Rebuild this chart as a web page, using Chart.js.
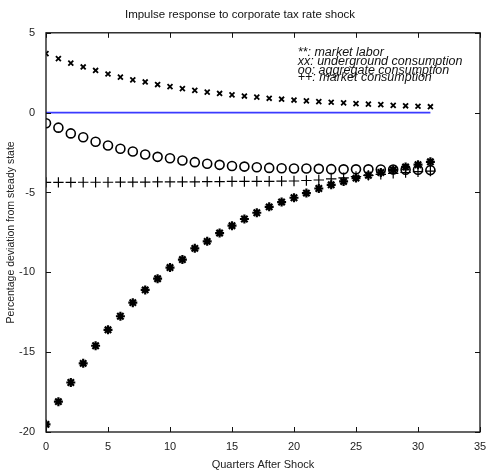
<!DOCTYPE html>
<html>
<head>
<meta charset="utf-8">
<script src="https://cdn.jsdelivr.net/npm/chart.js@4.4.1/dist/chart.umd.min.js"></script>
<style>
  html, body { margin: 0; padding: 0; background: #fff; }
  #wrap { width: 492px; height: 476px; }
</style>
</head>
<body>
<div id="wrap"><canvas id="chart" width="492" height="476"></canvas></div>
<script>
// quarters after the shock
let quarters = [0,1,2,3,4,5,6,7,8,9,10,11,12,13,14,15,16,17,18,19,20,21,22,23,24,25,26,27,28,29,30,31];

// xx: underground consumption
let underground = [3.7,3.38,3.1,2.86,2.64,2.42,2.22,2.05,1.92,1.76,1.63,1.5,1.39,1.29,1.2,1.11,1.04,0.97,0.9,0.84,0.79,0.74,0.69,0.65,0.61,0.57,0.53,0.5,0.46,0.43,0.4,0.37];
// oo: aggregate consumption
let aggregate = [-0.66,-0.94,-1.3,-1.54,-1.82,-2.06,-2.26,-2.43,-2.62,-2.77,-2.86,-3.0,-3.1,-3.2,-3.27,-3.34,-3.38,-3.42,-3.46,-3.48,-3.5,-3.5,-3.52,-3.54,-3.55,-3.55,-3.55,-3.56,-3.56,-3.57,-3.58,-3.6];
// ++: market consumption
let marketCons = [-4.37,-4.37,-4.37,-4.36,-4.36,-4.36,-4.35,-4.35,-4.35,-4.34,-4.34,-4.33,-4.33,-4.32,-4.32,-4.31,-4.31,-4.3,-4.3,-4.29,-4.28,-4.25,-4.22,-4.15,-4.08,-4.0,-3.93,-3.86,-3.8,-3.75,-3.7,-3.66];
// **: market labor
let marketLabor = [-19.52,-18.1,-16.9,-15.7,-14.6,-13.6,-12.75,-11.9,-11.1,-10.4,-9.7,-9.2,-8.5,-8.06,-7.54,-7.08,-6.66,-6.27,-5.9,-5.6,-5.33,-5.04,-4.75,-4.52,-4.31,-4.1,-3.92,-3.75,-3.58,-3.4,-3.26,-3.08];

let legendLines = [
  "**: market labor",
  "xx: underground consumption",
  "oo: aggregate consumption",
  "++: market consumption"
];

let xTicks = [0,5,10,15,20,25,30,35];
let yTicks = [-20,-15,-10,-5,0,5];

function pts(vals) {
  return vals.map((v, i) => ({ x: quarters[i], y: v }));
}

// box around the plot with ticks pointing inward, like matlab
const boxPlugin = {
  id: 'box',
  afterDraw(chart) {
    const ctx = chart.ctx;
    const a = chart.chartArea;
    const xs = chart.scales.x, ys = chart.scales.y;
    ctx.save();
    ctx.strokeStyle = '#111';
    ctx.lineWidth = 1.3;
    ctx.strokeRect(a.left, a.top, a.right - a.left, a.bottom - a.top);
    ctx.lineWidth = 1;
    xTicks.forEach(t => {
      const px = Math.round(xs.getPixelForValue(t)) + 0.5;
      ctx.beginPath();
      ctx.moveTo(px, a.bottom); ctx.lineTo(px, a.bottom - 5);
      ctx.moveTo(px, a.top); ctx.lineTo(px, a.top + 5);
      ctx.stroke();
    });
    yTicks.forEach(t => {
      const py = Math.round(ys.getPixelForValue(t)) + 0.5;
      ctx.beginPath();
      ctx.moveTo(a.left, py); ctx.lineTo(a.left + 5, py);
      ctx.moveTo(a.right, py); ctx.lineTo(a.right - 5, py);
      ctx.stroke();
    });
    // legend text, overlapping as in the figure
    ctx.fillStyle = '#111';
    ctx.font = 'italic 12.5px "Liberation Sans", Arial, sans-serif';
    ctx.textBaseline = 'middle';
    const lx = xs.getPixelForValue(20.3);
    const ly = [53, 62, 71, 78];
    legendLines.forEach((s, i) => ctx.fillText(s, lx, ly[i]));
    ctx.restore();
  }
};

const fontFam = '"Liberation Sans", Arial, sans-serif';

new Chart(document.getElementById('chart'), {
  type: 'scatter',
  data: {
    datasets: [
      {
        type: 'line',
        data: [{ x: 0, y: 0 }, { x: 31, y: 0 }],
        borderColor: '#3a3aff',
        borderWidth: 1.6,
        pointRadius: 0,
        fill: false
      },
      {
        data: pts(underground),
        pointStyle: 'crossRot',
        pointRadius: 3.5,
        borderColor: '#000',
        borderWidth: 1.8
      },
      {
        data: pts(aggregate),
        pointStyle: 'circle',
        pointRadius: 4.5,
        borderColor: '#000',
        backgroundColor: 'rgba(0,0,0,0)',
        borderWidth: 1.6
      },
      {
        data: pts(marketCons),
        pointStyle: 'cross',
        pointRadius: 5.2,
        borderColor: '#000',
        borderWidth: 1.2
      },
      {
        data: pts(marketLabor),
        pointStyle: 'star',
        pointRadius: 4.5,
        borderColor: '#000',
        borderWidth: 2.2
      }
    ]
  },
  options: {
    responsive: false,
    animation: false,
    layout: { padding: { left: 0, right: 12, top: 0, bottom: 0 } },
    plugins: {
      legend: { display: false },
      tooltip: { enabled: false },
      title: {
        display: true,
        text: 'Impulse response to corporate tax rate shock',
        color: '#111',
        font: { family: fontFam, size: 11.5, weight: 'normal' },
        padding: { top: 8, bottom: 11 }
      }
    },
    scales: {
      x: {
        type: 'linear',
        min: 0,
        max: 35,
        afterBuildTicks: s => { s.ticks = xTicks.map(v => ({ value: v })); },
        afterFit: s => { s.height = 44; },
        grid: { display: false },
        border: { display: false },
        ticks: { color: '#222', padding: 0, font: { family: fontFam, size: 11 } },
        title: {
          display: true,
          text: 'Quarters After Shock',
          color: '#222',
          font: { family: fontFam, size: 11 },
          padding: { top: 2 }
        }
      },
      y: {
        type: 'linear',
        min: -20,
        max: 5,
        afterBuildTicks: s => { s.ticks = yTicks.map(v => ({ value: v })); },
        afterFit: s => { s.width = 46; },
        grid: { display: false },
        border: { display: false },
        ticks: { color: '#222', padding: 3, font: { family: fontFam, size: 11 } },
        title: {
          display: true,
          text: 'Percentage deviation from steady state',
          color: '#222',
          font: { family: fontFam, size: 10.5 },
          padding: { top: 5, bottom: 0 }
        }
      }
    }
  },
  plugins: [boxPlugin]
});
</script>
</body>
</html>
